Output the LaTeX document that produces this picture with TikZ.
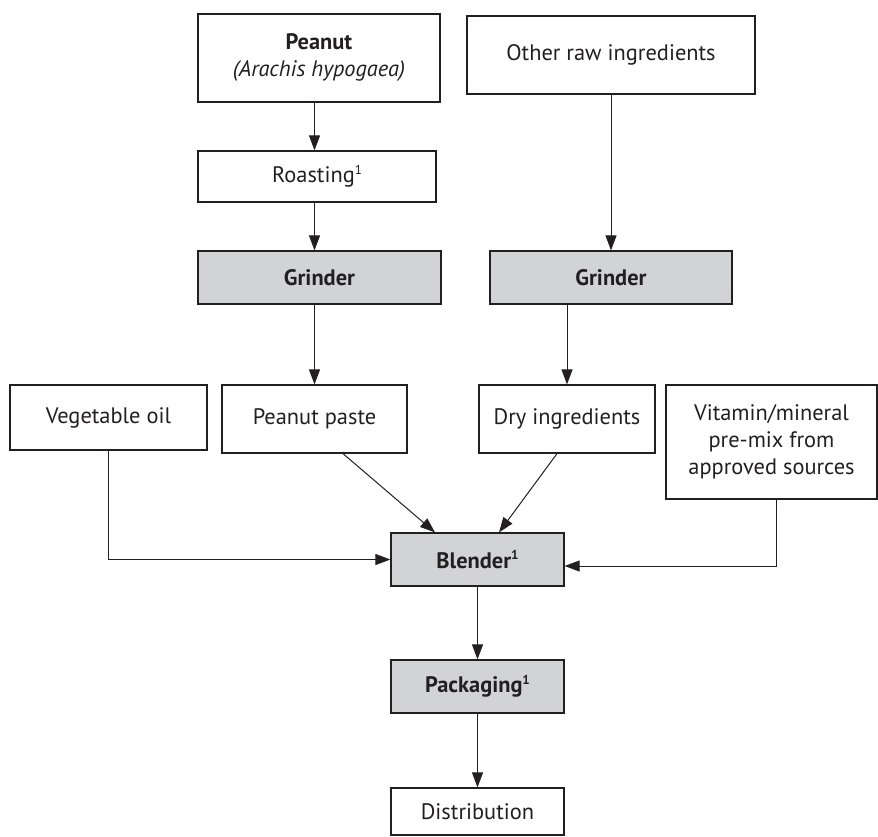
\documentclass[tikz,border=0pt]{standalone}
\usepackage{fontspec}
\setmainfont{PT Sans}
\usetikzlibrary{arrows.meta,calc}
\definecolor{boxgray}{HTML}{D1D3D4}
\definecolor{ink}{HTML}{231F20}
\newcommand\supone{\raisebox{0.75ex}{\fontsize{6.5}{6.5}\selectfont 1}}
\begin{document}
\begin{tikzpicture}[x=0.5pt,y=-0.5pt,
  box/.style={draw=ink, line width=0.6pt, inner sep=0pt, align=center, text=ink,
              font=\fontsize{11.2}{13.5}\selectfont},
  gbox/.style={box, fill=boxgray},
  arr/.style={draw=ink, line width=0.5pt, -{Triangle[length=7.5pt,width=5.5pt]}}]
\useasboundingbox (0,0) rectangle (878,836);
\node[box, minimum width=121pt, minimum height=44pt] (peanut) at (319,58)
  {\textbf{Peanut}\\\textit{(Arachis hypogaea)}};
\node[box, minimum width=119pt, minimum height=25.5pt] (roast) at (317,176.5)
  {Roasting\supone};
\node[gbox, minimum width=121.5pt, minimum height=26.5pt] (grindL) at (319.5,277.5)
  {\textbf{Grinder}};
\node[box, minimum width=144pt, minimum height=39pt] (other) at (611,55)
  {Other raw ingredients};
\node[gbox, minimum width=121pt, minimum height=26.5pt] (grindR) at (611,277.5)
  {\textbf{Grinder}};
\node[box, minimum width=98.5pt, minimum height=32.5pt] (veg) at (108.5,417.5)
  {Vegetable oil};
\node[box, minimum width=92.5pt, minimum height=34pt] (paste) at (314.5,419)
  {Peanut paste};
\node[box, minimum width=88pt, minimum height=34pt] (dry) at (567,419)
  {Dry ingredients};
\node[box, minimum width=105.5pt, minimum height=57pt] (vit) at (771.5,442)
  {Vitamin/mineral\\pre-mix from\\approved sources};
\node[gbox, minimum width=86.5pt, minimum height=26.5pt] (blend) at (477.5,559.5)
  {\textbf{Blender\supone}};
\node[gbox, minimum width=86.5pt, minimum height=26.5pt] (pack) at (477.5,686.5)
  {\textbf{Packaging\supone}};
\node[box, minimum width=86.5pt, minimum height=23.5pt] (dist) at (477.5,811.5)
  {Distribution};
% connectors
\draw[arr] (peanut.south -| paste.north) -- (roast.north -| paste.north);
\draw[arr] (roast.south -| paste.north) -- (grindL.north -| paste.north);
\draw[arr] (grindL.south -| paste.north) -- (paste.north);
\draw[arr] (other.south) -- (grindR.north);
\draw[arr] (grindR.south -| dry.north) -- (dry.north);
\draw[arr] ([xshift=14.25pt]paste.south) -- ([xshift=-21.25pt]blend.north);
\draw[arr] ([xshift=-5pt]dry.south) -- ([xshift=10.75pt]blend.north);
\draw[arr] (veg.south) |- (blend.west);
\draw[arr] ([xshift=2.25pt]vit.south) |- ([yshift=-3.25pt]blend.east);
\draw[arr] (blend.south) -- (pack.north);
\draw[arr] (pack.south) -- (dist.north);
\end{tikzpicture}
\end{document}
